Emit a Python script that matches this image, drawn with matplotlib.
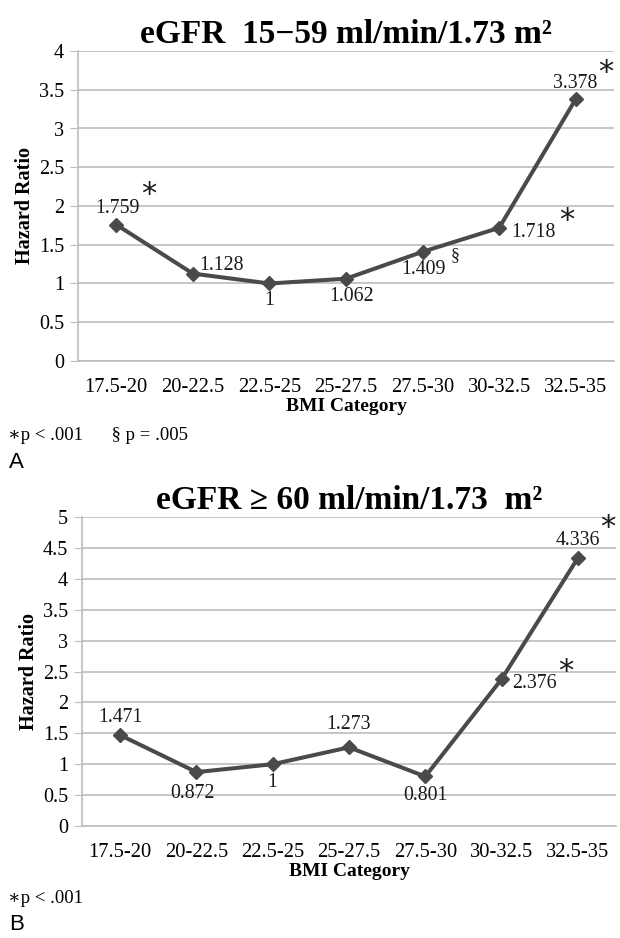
import matplotlib
matplotlib.use("Agg")
import matplotlib.pyplot as plt

categories = ['17.5-20', '20-22.5', '22.5-25', '25-27.5', '27.5-30', '30-32.5', '32.5-35']
hr_a = [1.759, 1.128, 1, 1.062, 1.409, 1.718, 3.378]
hr_b = [1.471, 0.872, 1, 1.273, 0.801, 2.376, 4.336]
labels_a = ['1.759', '1.128', '1', '1.062', '1.409', '1.718', '3.378']
labels_b = ['1.471', '0.872', '1', '1.273', '0.801', '2.376', '4.336']
yticks_a = [0, 0.5, 1, 1.5, 2, 2.5, 3, 3.5, 4]
yticks_b = [0, 0.5, 1, 1.5, 2, 2.5, 3, 3.5, 4, 4.5, 5]
ytick_labels_a = ['0', '0.5', '1', '1.5', '2', '2.5', '3', '3.5', '4']
ytick_labels_b = ['0', '0.5', '1', '1.5', '2', '2.5', '3', '3.5', '4', '4.5', '5']
title_a = 'eGFR  15\u221259 ml/min/1.73 m\u00b2'
title_b = 'eGFR \u2265 60 ml/min/1.73  m\u00b2'
sig_a = {0: '*', 4: '\u00a7', 5: '*', 6: '*'}
sig_b = {5: '*', 6: '*'}

SERIF = ['Liberation Serif', 'DejaVu Serif']
plt.rcParams['font.family'] = SERIF

W, H = 620, 938
fig = plt.figure(figsize=(W / 100, H / 100), dpi=100)

LINE = '#4a4a4a'
GRID = '#bcbcbc'

# offsets (pixels) of value labels and significance marks
off_a = [(1, 16), (29, 8), (0, -17), (6, -18), (1, -18), (34, -5), (-1, 16)]
sig_off_a = {0: (32, 30), 4: (33, -4), 5: (68, 7), 6: (30, 27)}
off_b = [(0, 18), (-4, -21), (0, -18), (0, 23), (0, -19), (33, -4), (0, 18)]
sig_off_b = {5: (64, 8), 6: (30, 31)}


def make_panel(rect, vals, labels, yticks, yticklabels, title, offs, sig, sig_offs):
    ax = fig.add_axes(rect)
    x = list(range(len(categories)))
    ax.plot(x, vals, color=LINE, lw=2.9, marker='D', ms=7, mfc=LINE, mec=LINE, zorder=3)
    ax.set_xlim(-0.5, len(categories) - 0.5)
    ax.set_ylim(yticks[0], yticks[-1])
    ax.set_yticks(yticks)
    ax.set_yticklabels(yticklabels, fontsize=14.5)
    ax.set_xticks(x)
    ax.set_xticklabels(categories, fontsize=14.8)
    ax.tick_params(axis='x', length=0, pad=12)
    ax.tick_params(axis='y', length=6, color=GRID, pad=4)
    ax.grid(axis='y', color=GRID, lw=1.2)
    ax.set_axisbelow(True)
    for s in ['top', 'right']:
        ax.spines[s].set_visible(False)
    ax.spines['left'].set_color(GRID)
    ax.spines['left'].set_linewidth(1.2)
    ax.spines['bottom'].set_color(GRID)
    ax.spines['bottom'].set_linewidth(1.2)
    ax.set_ylabel('Hazard Ratio', fontsize=14.5, fontweight='bold', labelpad=3)
    ax.set_xlabel('BMI Category', fontsize=14, fontweight='bold', labelpad=1)
    ax.set_title(title, fontsize=24, fontweight='bold', pad=6)
    for i, (v, lab) in enumerate(zip(vals, labels)):
        ax.annotate(lab, (i, v), xytext=offs[i], textcoords='offset pixels',
                    ha='center', va='center', fontsize=14.3, color='#1a1a1a')
    for i, mark in sig.items():
        fs = 22 if mark == '*' else 13
        ax.annotate(mark, (i, vals[i]), xytext=sig_offs[i], textcoords='offset pixels',
                    ha='center', va='center', fontsize=fs, color='#1a1a1a',
                    family=['DejaVu Sans'] if mark == '*' else SERIF)
    return ax


make_panel([78 / W, 1 - 361 / H, 536 / W, 310 / H], hr_a, labels_a, yticks_a,
           ytick_labels_a, title_a, off_a, sig_a, sig_off_a)
make_panel([82 / W, 1 - 826 / H, 534 / W, 309 / H], hr_b, labels_b, yticks_b,
           ytick_labels_b, title_b, off_b, sig_b, sig_off_b)

fig.text(8 / W, 1 - 436 / H, '\u2217p < .001      \u00a7 p = .005', fontsize=13.5,
         family=SERIF, va='center', ha='left')
fig.text(9 / W, 1 - 462 / H, 'A', fontsize=16, family=['Liberation Sans', 'DejaVu Sans'],
         va='center', ha='left')
fig.text(8 / W, 1 - 898 / H, '\u2217p < .001', fontsize=13.5, family=SERIF,
         va='center', ha='left')
fig.text(9 / W, 1 - 924 / H, 'B', fontsize=16, family=['Liberation Sans', 'DejaVu Sans'],
         va='center', ha='left')

fig.savefig('out.png', dpi=100, facecolor='white')
